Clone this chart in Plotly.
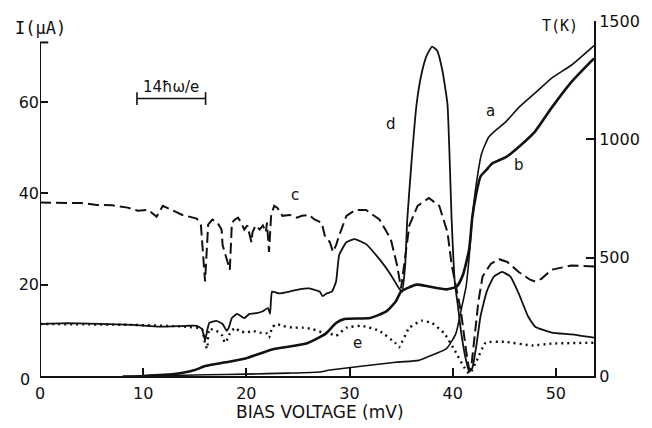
import plotly.graph_objects as go

# ---- current curves (left axis, I in microamperes) ----
# c : dashed
V_c = [0, 2, 4, 5.5, 7, 8.5, 9.5, 10.5, 11.3, 11.9, 12.9, 13.8, 15.2, 15.6, 16.0, 16.3,
       16.7, 17.2, 17.6, 17.7, 18.1, 18.4, 18.6, 18.9, 19.2, 19.5, 19.8, 20.1, 20.5, 20.6,
       20.9, 21.3, 21.6, 21.9, 22.0, 22.2, 22.4, 22.7, 23.0, 23.5, 24.2, 24.9, 25.4, 26.1,
       26.6, 27.3, 27.6, 28.1, 28.4, 28.7, 29.0, 29.7, 30.6, 31.6, 32.9, 34.0, 34.6, 35.0,
       35.3, 35.8, 36.6, 37.7, 38.7, 39.5, 39.9, 40.4, 40.8, 41.3, 41.6, 41.8, 42.1, 42.5,
       42.9, 43.7, 44.5, 45.3, 46.4, 47.5, 48.0, 48.6, 49.6, 51.5, 53.7]
I_c = [38.0, 37.9, 37.9, 37.5, 37.4, 36.9, 36.2, 36.4, 34.9, 37.3, 36.2, 35.3, 34.5, 33.0, 20.7, 33.2,
       34.3, 33.6, 32.1, 28.7, 25.6, 23.3, 33.6, 34.3, 34.7, 33.6, 32.1, 33.0, 29.3, 31.5,
       33.0, 32.1, 33.0, 31.5, 33.6, 27.2, 35.1, 37.3, 36.9, 35.1, 35.3, 34.7, 35.1, 35.3,
       34.3, 33.6, 30.8, 29.3, 27.2, 28.7, 30.8, 35.1, 36.4, 36.4, 34.3, 30.0, 24.4, 19.2,
       24.4, 33.0, 37.3, 39.0, 37.3, 31.5, 24.4, 18.5, 14.2, 5.6, 1.3, 1.9, 7.8, 16.4,
       21.8, 24.6, 25.6, 25.0, 22.8, 21.1, 20.7, 21.3, 23.3, 24.2, 24.0]

# d : solid
V_d = [0, 2.6, 9, 11.6, 14.2, 15.2, 15.7, 16.0, 16.2, 16.4, 17.1, 17.7, 18.1, 18.3, 18.6,
       19.1, 19.8, 20.3, 21.0, 21.6, 22.1, 22.3, 22.4, 22.5, 23.2, 24.2, 25.1, 26.1, 27.1,
       27.4, 27.8, 28.3, 28.7, 29.0, 29.7, 30.5, 31.6, 32.9, 34.0, 34.8, 35.1, 35.4, 35.6,
       36.0, 36.5, 37.0, 37.5, 38.0, 38.5, 39.0, 39.5, 39.9, 40.2, 40.5, 40.8, 41.2, 41.6,
       41.9, 42.3, 42.7, 43.3, 44.0, 44.8, 45.6, 46.4, 47.3, 48.0, 49.6, 51.5, 53.7]
I_d = [11.4, 11.6, 11.2, 10.8, 11.0, 11.0, 10.3, 7.8, 9.9, 11.6, 12.1, 11.4, 9.9, 10.6, 12.7,
       13.6, 12.7, 13.6, 13.8, 14.2, 14.9, 13.6, 17.0, 18.5, 18.1, 18.5, 19.0, 19.2, 18.5,
       17.5, 18.1, 18.5, 20.7, 26.5, 29.3, 30.0, 28.9, 25.6, 22.2, 19.2, 18.5, 24.4, 34.3,
       46.6, 59.5, 66.4, 70.3, 72.2, 71.3, 67.0, 59.5, 34.3, 20.7, 15.5, 9.9, 4.5, 0.9,
       1.7, 6.7, 13.1, 18.5, 21.8, 22.8, 21.8, 18.1, 13.1, 10.8, 9.5, 9.1, 8.4]

# e : dotted
V_e = [0, 9, 14.2, 15.7, 16.0, 16.2, 16.4, 17.1, 17.7, 17.9, 18.1, 18.4, 18.9, 19.3, 20.0,
       20.6, 21.3, 22.0, 22.2, 22.5, 22.9, 23.5, 24.5, 25.4, 26.4, 27.4, 28.1, 28.7, 29.7,
       31.2, 32.9, 34.5, 34.8, 35.8, 37.0, 38.0, 39.2, 40.2, 41.4, 41.7, 42.3, 43.2, 45.0,
       47.7, 49.6, 53.7]
I_e = [11.4, 11.2, 10.8, 10.3, 7.1, 6.0, 10.3, 9.9, 8.8, 7.3, 7.8, 9.3, 10.6, 9.9, 9.5,
       9.9, 9.5, 9.3, 8.4, 10.6, 11.4, 11.0, 10.6, 10.6, 10.3, 9.5, 9.3, 8.8, 10.6,
       11.0, 9.9, 7.1, 6.3, 10.6, 12.1, 11.6, 9.3, 5.6, 0.9, 0.6, 3.2, 7.3, 7.5,
       6.7, 7.1, 7.3]

# ---- temperature curves (right axis, T in kelvin) ----
# a : thin solid
V_a = [8, 12, 16, 20, 24, 27.1, 28.1, 34.5, 36.7, 37.7, 39.4, 40.3, 40.9, 41.3, 41.6,
       41.9, 42.3, 42.8, 43.5, 44.3, 45.2, 46.4, 48.0, 49.6, 51.5, 53.7]
T_a = [0, 2, 5, 8, 12, 17, 25, 58, 66, 83, 116, 178, 295, 378, 503,
       669, 814, 939, 1010, 1043, 1076, 1134, 1196, 1259, 1313, 1396]

# b : thick solid
V_b = [10, 13, 15, 16, 18, 20, 22.5, 25.8, 27.7, 28.7, 29.5, 32.0, 33.6, 34.5, 35.0,
       36.5, 37.7, 39.4, 40.4, 41.0, 41.6, 41.9, 42.3, 42.7, 43.3, 43.8, 45.2, 46.4, 48.0,
       49.6, 51.5, 53.7]
T_b = [0, 8, 25, 42, 58, 75, 112, 137, 179, 224, 241, 245, 274, 316, 357,
       386, 378, 366, 378, 428, 536, 669, 773, 843, 872, 897, 926, 968, 1034,
       1134, 1242, 1342]

# ---- axis ticks ----
X_TICKS = [0, 10, 20, 30, 40, 50]
I_TICKS = [20, 40, 60]
I_AXIS_TOP = 73.1
T_TICKS = [0, 500, 1000, 1500]

X_MAX = 53.7
I_MAX = 77.8
T_MAX = 1500

INK = "#111111"
FONT = "DejaVu Sans"

fig = go.Figure()

fig.add_trace(go.Scatter(x=V_c, y=I_c, mode="lines", yaxis="y",
                         line=dict(color=INK, width=2, dash="11px,5px")))
fig.add_trace(go.Scatter(x=V_d, y=I_d, mode="lines", yaxis="y",
                         line=dict(color=INK, width=1.8, shape="spline", smoothing=0.4)))
fig.add_trace(go.Scatter(x=V_e, y=I_e, mode="lines", yaxis="y",
                         line=dict(color=INK, width=2.4, dash="2px,4px", shape="spline", smoothing=0.4)))
fig.add_trace(go.Scatter(x=V_a, y=T_a, mode="lines", yaxis="y2",
                         line=dict(color=INK, width=1.6, shape="spline", smoothing=0.5)))
fig.add_trace(go.Scatter(x=V_b, y=T_b, mode="lines", yaxis="y2",
                         line=dict(color=INK, width=2.6, shape="spline", smoothing=0.5)))

shapes = [
    # left current axis, stopping short of the top with an end cap
    dict(type="line", xref="x", yref="y", x0=0, x1=0, y0=0, y1=I_AXIS_TOP,
         line=dict(color=INK, width=2)),
    dict(type="line", xref="x", yref="y", x0=0, x1=0.8, y0=I_AXIS_TOP, y1=I_AXIS_TOP,
         line=dict(color=INK, width=2)),
    # 14 hbar-omega/e scale bar
    dict(type="line", xref="x", yref="y", x0=9.4, x1=16.05, y0=60.8, y1=60.8,
         line=dict(color=INK, width=1.6)),
    dict(type="line", xref="x", yref="y", x0=9.4, x1=9.4, y0=59.4, y1=62.2,
         line=dict(color=INK, width=1.6)),
    dict(type="line", xref="x", yref="y", x0=16.05, x1=16.05, y0=59.4, y1=62.2,
         line=dict(color=INK, width=1.6)),
]

ann_font = dict(family=FONT, size=15, color=INK)
tick_font = dict(family=FONT, size=16, color=INK)


def label(text, x, y, font, xref="x", yref="y"):
    return dict(text=text, xref=xref, yref=yref, x=x, y=y, showarrow=False,
                xanchor="center", yanchor="middle", font=font)


annotations = [
    label("I(μA)", 0.0, 0.98, dict(family="DejaVu Sans Mono", size=17, color=INK), "paper", "paper"),
    label("T(K)", 0.939, 0.985, dict(family="DejaVu Sans Mono", size=15, color=INK), "paper", "paper"),
    label("BIAS VOLTAGE (mV)", 0.505, -0.1, dict(family=FONT, size=17, color=INK), "paper", "paper"),
    label("0", -0.027, -0.01, tick_font, "paper", "paper"),
    label("14ħω/e", 12.67, 63.4, ann_font),
    label("a", 43.7, 58.0, ann_font),
    label("b", 46.4, 46.3, ann_font),
    label("c", 24.7, 39.7, ann_font),
    label("d", 34.0, 55.2, ann_font),
    label("e", 30.75, 7.3, ann_font),
]

fig.update_layout(
    width=652, height=428,
    margin=dict(l=40, r=57, t=15, b=52),
    paper_bgcolor="white", plot_bgcolor="white",
    showlegend=False,
    shapes=shapes, annotations=annotations,
    xaxis=dict(range=[0, X_MAX], showgrid=False, zeroline=False,
               showline=True, linecolor=INK, linewidth=2,
               ticks="inside", ticklen=8, tickwidth=2, tickcolor=INK,
               tickvals=X_TICKS, tickfont=tick_font, ticklabelstandoff=2),
    yaxis=dict(range=[0, I_MAX], showgrid=False, zeroline=False, showline=False,
               ticks="inside", ticklen=8, tickwidth=2, tickcolor=INK,
               tickvals=I_TICKS, tickfont=tick_font),
    yaxis2=dict(range=[0, T_MAX], overlaying="y", side="right",
                showgrid=False, zeroline=False,
                showline=True, linecolor=INK, linewidth=2,
                ticks="inside", ticklen=8, tickwidth=2, tickcolor=INK,
                tickvals=T_TICKS, tickfont=tick_font),
)

fig.write_html("out.html")
